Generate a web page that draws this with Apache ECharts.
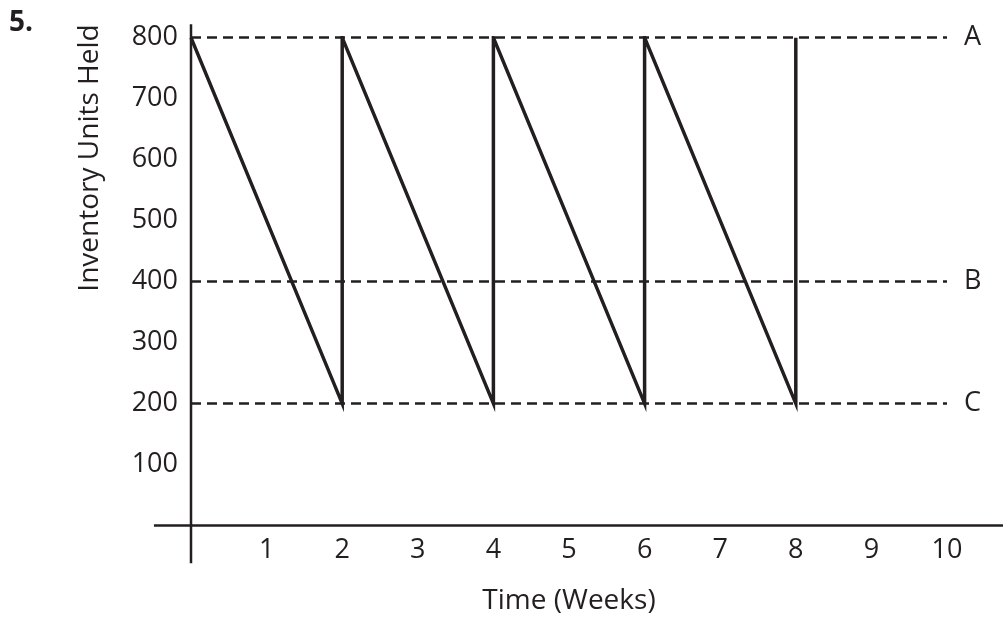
<!DOCTYPE html>
<html>
<head>
<meta charset="utf-8">
<script src="https://cdn.jsdelivr.net/npm/echarts@6/dist/echarts.min.js"></script>
<style>
html,body{margin:0;padding:0;background:#fff;}
#c{width:1003px;height:619px;}
</style>
</head>
<body>
<div id="c"></div>
<script>
// Data
var weeks = [0, 2, 2, 4, 4, 6, 6, 8, 8];
var inventory = [800, 200, 800, 200, 800, 200, 800, 200, 800];
var refLevels = [800, 400, 200];
var refNames = ['A', 'B', 'C'];
var xTicks = [1, 2, 3, 4, 5, 6, 7, 8, 9, 10];
var yTicks = [100, 200, 300, 400, 500, 600, 700, 800];
// axis line extents (in data units), axes cross beyond origin
var xAxisExtent = [-0.49, 10.8];
var yAxisExtent = [-62, 822];

var FONT = '"Open Sans", sans-serif';
var INK = '#231f20';

var chart = echarts.init(document.getElementById('c'), null, {renderer: 'canvas'});
var sawData = weeks.map(function (w, i) { return [w, inventory[i]]; });

chart.setOption({
  backgroundColor: '#fff',
  animation: false,
  textStyle: {fontFamily: FONT},
  grid: {left: 191, right: 56, top: 37.7, bottom: 93.5, outerBoundsMode: 'none'},
  xAxis: {
    type: 'value', min: 0, max: 10, interval: 1,
    axisLine: {show: false}, axisTick: {show: false}, splitLine: {show: false},
    axisLabel: {
      margin: 11, fontSize: 27, color: INK, fontFamily: FONT,
      formatter: function (v) { return xTicks.indexOf(v) >= 0 ? String(v) : ''; }
    },
    name: 'Time (Weeks)', nameLocation: 'middle', nameGap: 62,
    nameTextStyle: {fontSize: 28, color: INK, fontFamily: FONT}
  },
  yAxis: {
    type: 'value', min: 0, max: 800, interval: 100,
    axisLine: {show: false}, axisTick: {show: false}, splitLine: {show: false},
    axisLabel: {
      margin: 13, fontSize: 27, color: INK, fontFamily: FONT,
      formatter: function (v) { return yTicks.indexOf(v) >= 0 ? String(v) : ''; }
    }
  },
  series: [
    {
      type: 'line', silent: true, symbol: 'none', data: [],
      markLine: {
        silent: true, symbol: ['none', 'none'],
        lineStyle: {color: INK, width: 2.6, type: [10, 6]},
        label: {show: true, position: 'end', distance: 17, formatter: '{b}', fontSize: 27, color: INK, fontFamily: FONT},
        data: refLevels.map(function (v, i) { return {yAxis: v, name: refNames[i]}; })
      }
    },
    {
      type: 'line', symbol: 'none', data: sawData,
      lineStyle: {color: INK, width: 3.5, join: 'miter'}
    }
  ]
});

// Axis lines drawn through the chart's own scales, extended past the origin
var x0 = chart.convertToPixel({gridIndex: 0}, [xAxisExtent[0], 0]);
var x1 = chart.convertToPixel({gridIndex: 0}, [xAxisExtent[1], 0]);
var y0 = chart.convertToPixel({gridIndex: 0}, [0, yAxisExtent[0]]);
var y1 = chart.convertToPixel({gridIndex: 0}, [0, yAxisExtent[1]]);
chart.setOption({
  graphic: [
    {type: 'text', left: 9, top: 9, style: {text: '5.', font: 'bold 28px "Open Sans", sans-serif', fill: INK}},
    {type: 'text', x: 90, y: 158, rotation: Math.PI / 2,
     style: {text: 'Inventory Units Held', font: '28px "Open Sans", sans-serif', fill: INK, align: 'center', verticalAlign: 'middle'}},
    {type: 'line', silent: true, z: 5, shape: {x1: x0[0], y1: x0[1], x2: x1[0], y2: x1[1]}, style: {stroke: INK, lineWidth: 2.5}},
    {type: 'line', silent: true, z: 5, shape: {x1: y0[0], y1: y0[1], x2: y1[0], y2: y1[1]}, style: {stroke: INK, lineWidth: 2.5}}
  ]
});
</script>
</body>
</html>
